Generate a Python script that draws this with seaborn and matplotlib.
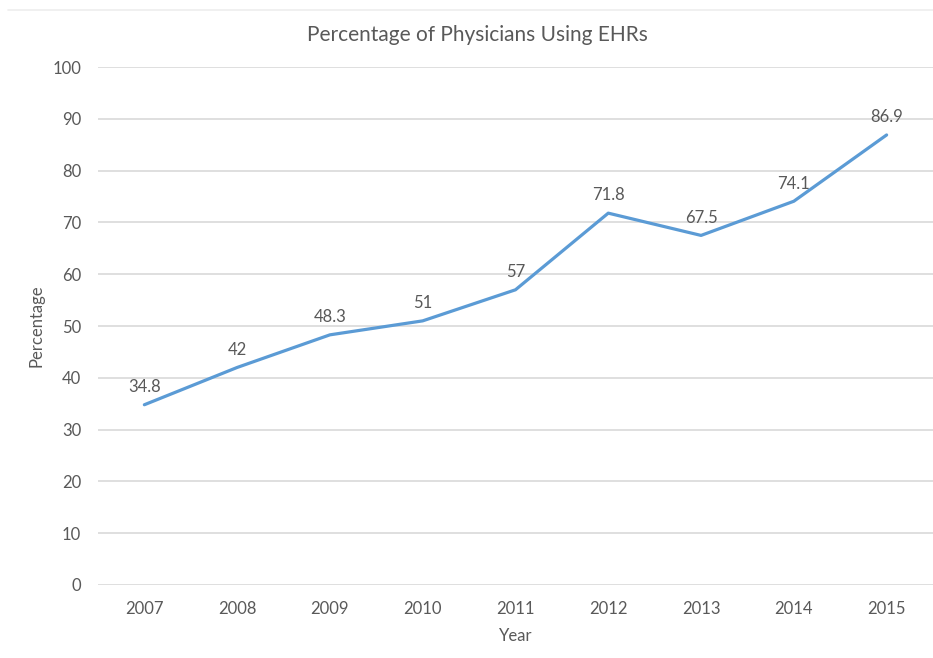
import matplotlib
matplotlib.use("Agg")
import matplotlib.pyplot as plt
from matplotlib.lines import Line2D
import seaborn as sns
import pandas as pd

years = ["2007", "2008", "2009", "2010", "2011", "2012", "2013", "2014", "2015"]
percentages = [34.8, 42, 48.3, 51, 57, 71.8, 67.5, 74.1, 86.9]
value_labels = ["34.8", "42", "48.3", "51", "57", "71.8", "67.5", "74.1", "86.9"]
y_ticks = [0, 10, 20, 30, 40, 50, 60, 70, 80, 90, 100]

sns.set_theme(style="white")
plt.rcParams["font.family"] = ["Lato", "DejaVu Sans"]

text_color = "#595959"
grid_color = "#D9D9D9"
line_color = "#5B9BD5"

df = pd.DataFrame({"Year": years, "Percentage": percentages})

fig = plt.figure(figsize=(9.33, 6.58), dpi=100)
ax = fig.add_axes([0.105, 0.111, 0.895, 0.787])

sns.lineplot(data=df, x="Year", y="Percentage", ax=ax, color=line_color,
             linewidth=2.3, sort=False)

for i, (v, lab) in enumerate(zip(percentages, value_labels)):
    ax.annotate(lab, (i, v), xytext=(0, 7), textcoords="offset points",
                ha="center", va="bottom", fontsize=12, color=text_color)

ax.set_xlim(-0.5, len(years) - 0.5)
ax.set_ylim(0, 100)
ax.set_yticks(y_ticks)
ax.yaxis.grid(True, color=grid_color, linewidth=1.2)
ax.set_axisbelow(True)
for s in ax.spines.values():
    s.set_visible(False)
ax.tick_params(axis="both", length=0, labelsize=12, labelcolor=text_color)
ax.tick_params(axis="x", pad=11.5)
ax.tick_params(axis="y", pad=12)

ax.set_xlabel("Year", fontsize=12, color=text_color, labelpad=8)
ax.set_ylabel("Percentage", fontsize=12, color=text_color, labelpad=6)
fig.text(0.512, 0.947, "Percentage of Physicians Using EHRs", ha="center",
         va="center", fontsize=15, color=text_color)

fig.add_artist(Line2D([0.009, 1.0], [0.985, 0.985], color="#EEEEEE",
                      linewidth=1.2, transform=fig.transFigure))

fig.savefig("out.png", dpi=100, facecolor="white")
